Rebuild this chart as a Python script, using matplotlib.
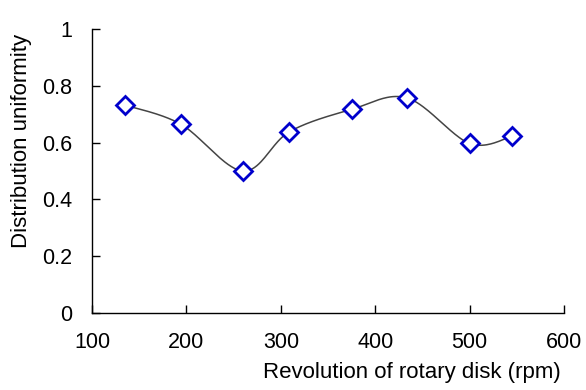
import numpy as np
import matplotlib
matplotlib.use("Agg")
import matplotlib.pyplot as plt

plt.rcParams['font.family'] = ['Liberation Sans', 'DejaVu Sans']

# Rotary disk speed (rpm) and measured distribution uniformity
rpm = [135, 194, 260, 309, 375, 434, 500, 545]
uniformity = [0.732, 0.665, 0.500, 0.638, 0.717, 0.757, 0.597, 0.622]

x_ticks = [100, 200, 300, 400, 500, 600]
y_ticks = [0, 0.2, 0.4, 0.6, 0.8, 1]
y_tick_labels = ["0", "0.2", "0.4", "0.6", "0.8", "1"]


def smooth_curve(xs, ys, n=40):
    """Piecewise cubic Bezier through the points (spreadsheet-style smoothing)."""
    p = np.column_stack([xs, ys]).astype(float)
    ext = np.vstack([p[0], p, p[-1]])
    out = []
    t = np.linspace(0, 1, n)[:, None]
    for i in range(len(p) - 1):
        p0, p1 = ext[i + 1], ext[i + 2]
        c1 = p0 + (ext[i + 2] - ext[i]) / 6.0
        c2 = p1 - (ext[i + 3] - ext[i + 1]) / 6.0
        seg = ((1 - t) ** 3) * p0 + 3 * ((1 - t) ** 2) * t * c1 + 3 * (1 - t) * t ** 2 * c2 + t ** 3 * p1
        out.append(seg if i == 0 else seg[1:])
    c = np.vstack(out)
    return c[:, 0], c[:, 1]


fig = plt.figure(figsize=(5.86, 3.90), dpi=100)
ax = fig.add_axes([0.157, 0.1974, 0.8055, 0.7282])

cx, cy = smooth_curve(rpm, uniformity)
ax.plot(cx, cy, color="#444444", lw=1.1, zorder=2)
ax.plot(rpm, uniformity, linestyle="none", marker="D", markersize=9,
        markerfacecolor="white", markeredgecolor="#0000CC", markeredgewidth=2.0, zorder=3)

ax.set_xlim(100, 600)
ax.set_ylim(0, 1)
ax.set_xticks(x_ticks)
ax.set_yticks(y_ticks)
ax.set_yticklabels(y_tick_labels)

for s in ("top", "right"):
    ax.spines[s].set_visible(False)
for s in ("left", "bottom"):
    ax.spines[s].set_linewidth(1.0)
    ax.spines[s].set_color("black")

ax.tick_params(direction="in", length=6, width=1, labelsize=15.5, pad=14)
ax.set_xlabel("Revolution of rotary disk (rpm)", fontsize=16)
ax.set_ylabel("Distribution uniformity", fontsize=16)
ax.xaxis.set_label_coords(0.678, -0.172)
ax.yaxis.set_label_coords(-0.127, 0.606)

fig.savefig("out.png", dpi=100)
